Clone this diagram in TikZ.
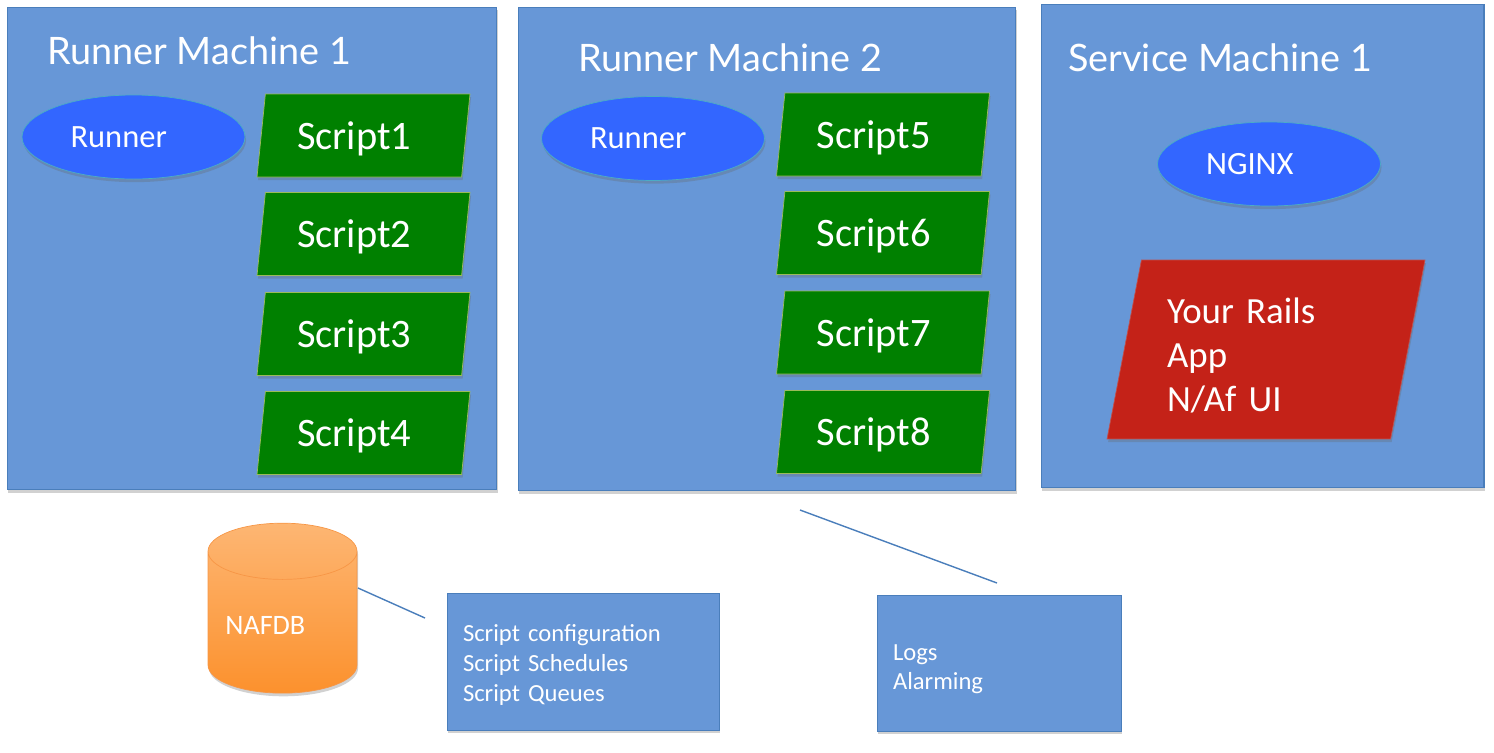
\documentclass[tikz,border=0pt]{standalone}
\usepackage{fontspec}
\setmainfont{Carlito}
\newfontfamily\titlefont{Lato}
\usetikzlibrary{shapes.geometric,shadows}
\definecolor{machineblue}{RGB}{103,151,215}
\definecolor{machineline}{RGB}{74,126,187}
\definecolor{runnerblue}{RGB}{51,102,255}
\definecolor{runnerline}{RGB}{75,172,198}
\definecolor{scriptgreen}{RGB}{0,128,0}
\definecolor{scriptline}{RGB}{155,187,89}
\definecolor{appred}{RGB}{196,34,24}
\definecolor{appline}{RGB}{192,80,77}
\definecolor{dbtop}{RGB}{253,182,115}
\definecolor{dbbottom}{RGB}{252,145,45}
\definecolor{dbline}{RGB}{247,150,70}
\begin{document}
\begin{tikzpicture}[x=0.02cm,y=-0.02cm,
  softshadow/.style={drop shadow={shadow xshift=0.6pt,shadow yshift=-1.8pt,opacity=0.3,fill=black!60}},
  machine/.style={draw=machineline,fill=machineblue,line width=0.6pt,softshadow},
  title/.style={text=white,font=\titlefont\fontsize{21.5}{25}\selectfont,anchor=base west,inner sep=0pt},
  runner/.style={ellipse,draw=runnerline,fill=runnerblue,text=white,minimum width=4.46cm,minimum height=1.68cm,
    text width=2.52cm,align=left,text depth=0pt,font=\fontsize{18.5}{22}\selectfont,softshadow},
  script/.style={trapezium,trapezium left angle=78,trapezium right angle=102,trapezium stretches body=true,
    draw=scriptline,fill=scriptgreen,text=white,minimum width=4.26cm,minimum height=1.66cm,
    text width=2.66cm,align=left,text depth=0pt,font=\fontsize{23}{27}\selectfont,softshadow},
  app/.style={trapezium,trapezium left angle=76,trapezium right angle=104,trapezium stretches body=true,
    draw=appline,fill=appred,text=white,minimum width=6.36cm,minimum height=3.58cm,
    text width=3.96cm,align=left,text height=21pt,font=\fontsize{21}{25}\selectfont,softshadow},
  db/.style={cylinder,shape border rotate=90,inner sep=5pt,aspect=3.2,minimum width=2.98cm,minimum height=3.4cm,
    top color=dbtop,bottom color=dbbottom,draw=dbline,softshadow},
  infobox/.style={draw=machineline,fill=machineblue,text=white,align=left,inner xsep=0.32cm,
    font=\fontsize{14}{17}\selectfont,softshadow},
  link/.style={draw=machineline,line width=0.8pt}]
\useasboundingbox (0,0) rectangle (1494,752);

\node[machine,minimum width=9.8cm,minimum height=9.66cm] (rm1) at (252,248.5) {};
\node[machine,minimum width=9.96cm,minimum height=9.68cm] (rm2) at (767,249) {};
\node[machine,minimum width=8.86cm,minimum height=9.68cm] (sm1) at (1262.5,246) {};
\node[title] (rm1title) at (47,64) {Runner Machine 1};
\node[title] (rm2title) at (578,71) {Runner Machine 2};
\node[title] (sm1title) at (1068,71) {Service Machine 1};

\node[runner] (runner1) at (133.5,137) {Runner};
\node[script] (script1) at (363.5,135.5) {Script1};
\node[script] (script2) at (363.5,234) {Script2};
\node[script] (script3) at (363.5,334) {Script3};
\node[script] (script4) at (363.5,433) {Script4};

\node[runner] (runner2) at (653,138.5) {Runner};
\node[script] (script5) at (883,134.5) {Script5};
\node[script] (script6) at (883,233) {Script6};
\node[script] (script7) at (883,332.5) {Script7};
\node[script] (script8) at (883,432) {Script8};

\node[runner] (nginx) at (1269,164) {NGINX};
\node[app] (rails) at (1266,349.5) {Your Rails\\App\\N/Af UI};

\node[db] (nafdb) at (282.5,629) {};
\node[text=white,anchor=west,inner sep=0pt,font=\fontsize{16}{19}\selectfont] (nafdbtext) at (225,625) {NAFDB};
\node[infobox,minimum width=5.44cm,minimum height=2.74cm,text width=4.8cm,text height=13.5pt] (dbinfo) at (583,661.5)
  {Script configuration\\Script Schedules\\Script Queues};
\node[infobox,minimum width=4.88cm,minimum height=2.72cm,text width=4.24cm,text height=16pt] (logs) at (999,663)
  {Logs\\Alarming};

\coordinate (dbend) at (358,588);
\coordinate (dbinfoend) at (425,618);
\coordinate (rm2end) at (800,510);
\coordinate (logsend) at (997,583);
\draw[link] (dbend) -- (dbinfoend);
\draw[link] (rm2end) -- (logsend);
\end{tikzpicture}
\end{document}
